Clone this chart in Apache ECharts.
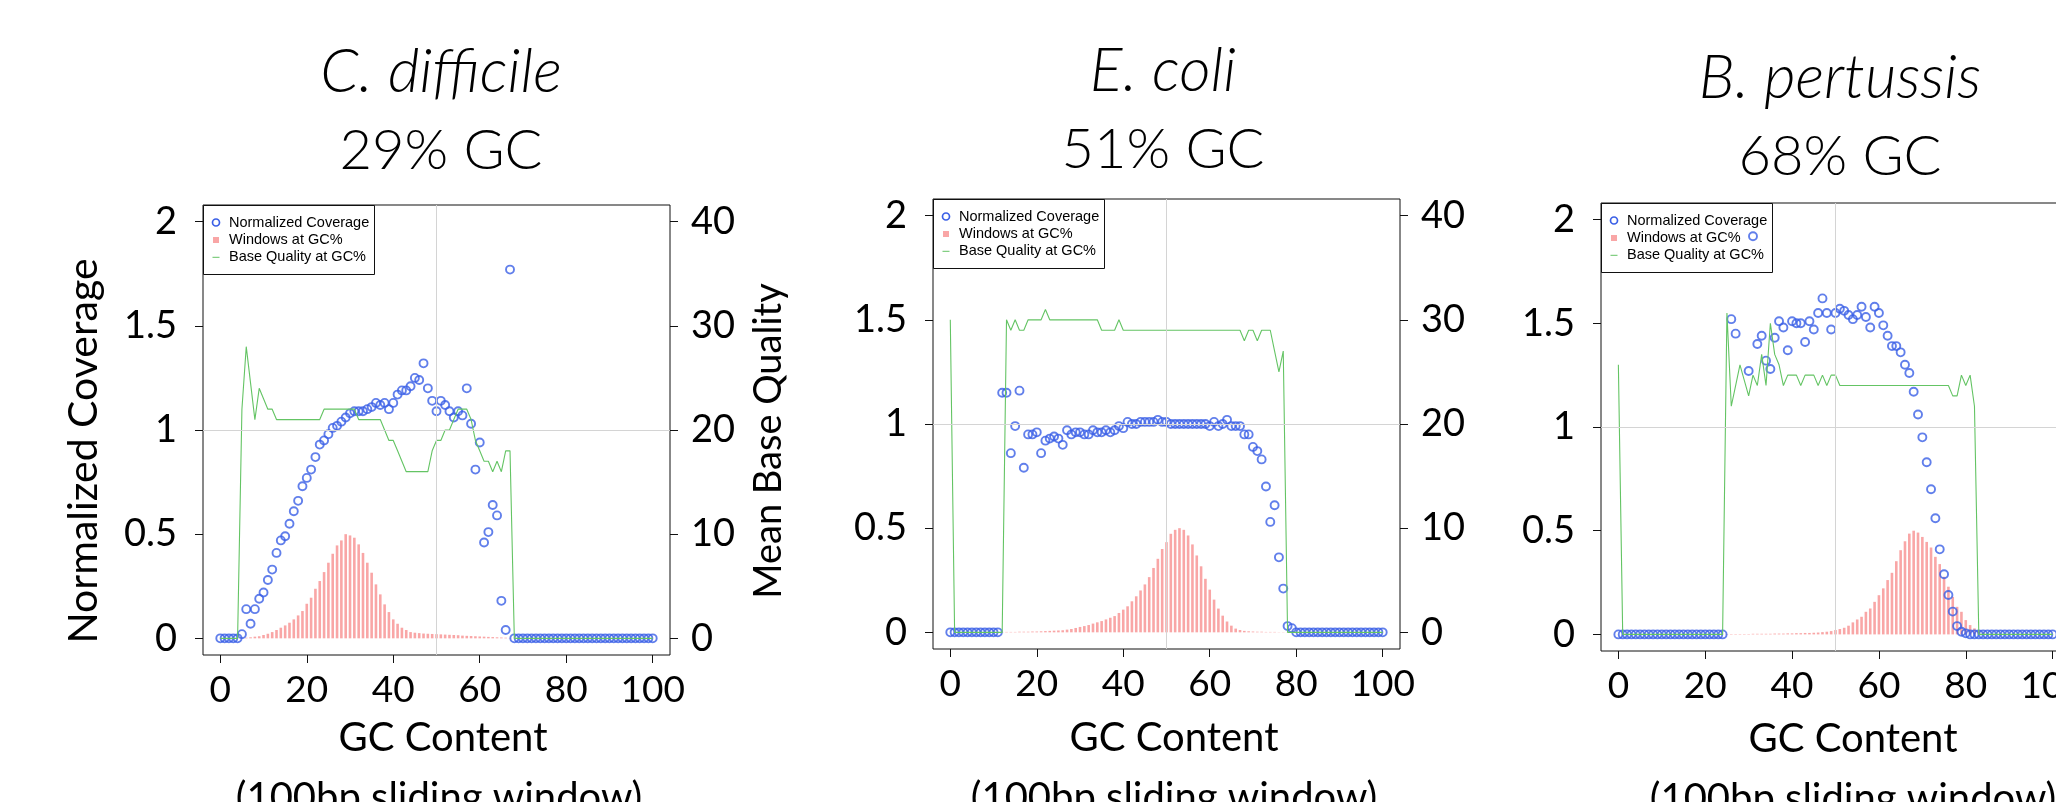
<!DOCTYPE html>
<html>
<head>
<meta charset="utf-8">
<title>GC bias</title>
<script src="https://cdn.jsdelivr.net/npm/echarts@6/dist/echarts.min.js"></script>
<style>
  html, body { margin: 0; padding: 0; background: #fff; }
  #chart { width: 2056px; height: 802px; }
</style>
</head>
<body>
<div id="chart"></div>
<script>
// x categories: GC content of a 100bp window
const gcContent = [
  0, 1, 2, 3, 4, 5, 6, 7, 8, 9,
  10, 11, 12, 13, 14, 15, 16, 17, 18, 19,
  20, 21, 22, 23, 24, 25, 26, 27, 28, 29,
  30, 31, 32, 33, 34, 35, 36, 37, 38, 39,
  40, 41, 42, 43, 44, 45, 46, 47, 48, 49,
  50, 51, 52, 53, 54, 55, 56, 57, 58, 59,
  60, 61, 62, 63, 64, 65, 66, 67, 68, 69,
  70, 71, 72, 73, 74, 75, 76, 77, 78, 79,
  80, 81, 82, 83, 84, 85, 86, 87, 88, 89,
  90, 91, 92, 93, 94, 95, 96, 97, 98, 99,
  100
];

const xTicks = [0, 20, 40, 60, 80, 100];
const coverageTicks = [0, 0.5, 1, 1.5, 2];
const qualityTicks = [0, 10, 20, 30, 40];

const speciesNames = ['C. difficile', 'E. coli', 'B. pertussis'];
const genomeGc = ['29% GC', '51% GC', '68% GC'];
const legendNames = ['Normalized Coverage', 'Windows at GC%', 'Base Quality at GC%'];

// C. difficile
const cdCoverage = [
  0, 0, 0, 0, 0, 0.02, 0.14, 0.07, 0.14, 0.19,
  0.22, 0.28, 0.33, 0.41, 0.47, 0.49, 0.55, 0.61, 0.66, 0.73,
  0.77, 0.81, 0.87, 0.93, 0.95, 0.98, 1.01, 1.02, 1.04, 1.06,
  1.08, 1.09, 1.09, 1.09, 1.10, 1.11, 1.13, 1.12, 1.13, 1.10,
  1.13, 1.17, 1.19, 1.19, 1.21, 1.25, 1.24, 1.32, 1.20, 1.14,
  1.09, 1.14, 1.12, 1.09, 1.06, 1.09, 1.07, 1.20, 1.03, 0.81,
  0.94, 0.46, 0.51, 0.64, 0.59, 0.18, 0.04, 1.77, 0, 0,
  0, 0, 0, 0, 0, 0, 0, 0, 0, 0,
  0, 0, 0, 0, 0, 0, 0, 0, 0, 0,
  0, 0, 0, 0, 0, 0, 0, 0, 0, 0,
  0
];
const cdWindows = [
  0, 0, 0, 0, 0, 0.002, 0.003, 0.005, 0.008, 0.010,
  0.016, 0.022, 0.030, 0.040, 0.051, 0.062, 0.075, 0.091, 0.110, 0.131,
  0.166, 0.195, 0.238, 0.275, 0.318, 0.363, 0.406, 0.446, 0.470, 0.500,
  0.494, 0.483, 0.451, 0.410, 0.363, 0.315, 0.259, 0.211, 0.163, 0.126,
  0.091, 0.070, 0.051, 0.040, 0.030, 0.027, 0.025, 0.023, 0.022, 0.021,
  0.020, 0.019, 0.018, 0.017, 0.016, 0.015, 0.013, 0.012, 0.011, 0.010,
  0.009, 0.008, 0.007, 0.006, 0.005, 0.004, 0.003, 0.002, 0, 0,
  0, 0, 0, 0, 0, 0, 0, 0, 0, 0,
  0, 0, 0, 0, 0, 0, 0, 0, 0, 0,
  0, 0, 0, 0, 0, 0, 0, 0, 0, 0,
  0
];
const cdQuality = [
  0, 0, 0, 0, 0, 22, 28, 24.5, 21, 24,
  23, 22, 22, 21, 21, 21, 21, 21, 21, 21,
  21, 21, 21, 21, 22, 22, 22, 22, 22, 22,
  22, 22, 21, 21, 21, 21, 21, 21, 20, 19,
  19, 18, 17, 16, 16, 16, 16, 16, 16, 18,
  19, 19, 20, 20, 21, 22, 22, 22, 21, 19,
  18, 17, 17, 16, 17, 16, 18, 18, 0, 0,
  0, 0, 0, 0, 0, 0, 0, 0, 0, 0,
  0, 0, 0, 0, 0, 0, 0, 0, 0, 0,
  0, 0, 0, 0, 0, 0, 0, 0, 0, 0,
  0
];

// E. coli
const ecCoverage = [
  0, 0, 0, 0, 0, 0, 0, 0, 0, 0,
  0, 0, 1.15, 1.15, 0.86, 0.99, 1.16, 0.79, 0.95, 0.95,
  0.96, 0.86, 0.92, 0.93, 0.94, 0.93, 0.90, 0.97, 0.95, 0.96,
  0.96, 0.95, 0.95, 0.97, 0.96, 0.96, 0.97, 0.96, 0.97, 0.99,
  0.98, 1.01, 1.00, 1.00, 1.01, 1.01, 1.01, 1.01, 1.02, 1.01,
  1.01, 1.00, 1.00, 1.00, 1.00, 1.00, 1.00, 1.00, 1.00, 1.00,
  0.99, 1.01, 0.99, 1.00, 1.02, 0.99, 0.99, 0.99, 0.95, 0.95,
  0.89, 0.87, 0.83, 0.70, 0.53, 0.61, 0.36, 0.21, 0.03, 0.02,
  0, 0, 0, 0, 0, 0, 0, 0, 0, 0,
  0, 0, 0, 0, 0, 0, 0, 0, 0, 0,
  0
];
const ecWindows = [
  0, 0, 0, 0, 0, 0, 0, 0, 0, 0,
  0, 0, 0.002, 0.002, 0.002, 0.002, 0.003, 0.003, 0.003, 0.004,
  0.004, 0.005, 0.006, 0.007, 0.008, 0.009, 0.010, 0.013, 0.016, 0.021,
  0.026, 0.030, 0.035, 0.042, 0.048, 0.054, 0.062, 0.070, 0.078, 0.093,
  0.109, 0.125, 0.149, 0.173, 0.201, 0.230, 0.265, 0.309, 0.353, 0.400,
  0.433, 0.473, 0.492, 0.500, 0.492, 0.465, 0.422, 0.369, 0.317, 0.257,
  0.205, 0.157, 0.114, 0.080, 0.052, 0.032, 0.018, 0.011, 0.007, 0.005,
  0.004, 0.003, 0.003, 0.002, 0.002, 0.002, 0.001, 0.001, 0.001, 0.001,
  0, 0, 0, 0, 0, 0, 0, 0, 0, 0,
  0, 0, 0, 0, 0, 0, 0, 0, 0, 0,
  0
];
const ecQuality = [
  30, 0, 0, 0, 0, 0, 0, 0, 0, 0,
  0, 0, 0, 30, 29, 30, 29, 29, 30, 30,
  30, 30, 31, 30, 30, 30, 30, 30, 30, 30,
  30, 30, 30, 30, 30, 29, 29, 29, 29, 30,
  29, 29, 29, 29, 29, 29, 29, 29, 29, 29,
  29, 29, 29, 29, 29, 29, 29, 29, 29, 29,
  29, 29, 29, 29, 29, 29, 29, 29, 28, 29,
  29, 28, 29, 29, 29, 27, 25, 27, 0, 0,
  0, 0, 0, 0, 0, 0, 0, 0, 0, 0,
  0, 0, 0, 0, 0, 0, 0, 0, 0, 0,
  0
];

// B. pertussis (null = point not visible in the picture)
const bpCoverage = [
  0, 0, 0, 0, 0, 0, 0, 0, 0, 0,
  0, 0, 0, 0, 0, 0, 0, 0, 0, 0,
  0, 0, 0, 0, 0, null, 1.52, 1.45, null, null,
  1.27, 1.92, 1.40, 1.44, 1.32, 1.28, 1.43, 1.51, 1.48, 1.37,
  1.51, 1.50, 1.50, 1.41, 1.51, 1.47, 1.55, 1.62, 1.55, 1.47,
  1.55, 1.57, 1.56, 1.54, 1.52, 1.54, 1.58, 1.53, 1.48, 1.58,
  1.55, 1.49, 1.44, 1.39, 1.39, 1.36, 1.30, 1.26, 1.17, 1.06,
  0.95, 0.83, 0.70, 0.56, 0.41, 0.29, 0.19, 0.11, 0.04, 0.013,
  0.005, 0, 0, 0, 0, 0, 0, 0, 0, 0,
  0, 0, 0, 0, 0, 0, 0, 0, 0, 0,
  0
];
const bpWindows = [
  0, 0, 0, 0, 0, 0, 0, 0, 0, 0,
  0, 0, 0, 0, 0, 0, 0, 0, 0, 0,
  0, 0, 0, 0, 0, 0.002, 0.002, 0.002, 0.002, 0.002,
  0.002, 0.003, 0.003, 0.003, 0.003, 0.003, 0.004, 0.004, 0.004, 0.005,
  0.005, 0.006, 0.006, 0.007, 0.007, 0.008, 0.009, 0.011, 0.013, 0.016,
  0.021, 0.026, 0.032, 0.042, 0.058, 0.072, 0.085, 0.109, 0.125, 0.157,
  0.189, 0.222, 0.262, 0.297, 0.353, 0.406, 0.449, 0.486, 0.500, 0.491,
  0.470, 0.446, 0.419, 0.374, 0.339, 0.278, 0.230, 0.181, 0.133, 0.109,
  0.069, 0.045, 0.029, 0.018, 0.010, 0, 0, 0, 0, 0,
  0, 0, 0, 0, 0, 0, 0, 0, 0, 0,
  0
];
const bpQuality = [
  26, 0, 0, 0, 0, 0, 0, 0, 0, 0,
  0, 0, 0, 0, 0, 0, 0, 0, 0, 0,
  0, 0, 0, 0, 0, 31, 22, 24, 26, 24.5,
  23, 25, 24, 27, 24, 30, 27, 26, 24, 25,
  25, 25, 24, 25, 25, 25, 24, 25, 24, 25,
  25, 24, 24, 24, 24, 24, 24, 24, 24, 24,
  24, 24, 24, 24, 24, 24, 24, 24, 24, 24,
  24, 24, 24, 24, 24, 24, 24, 23, 23, 25,
  24, 25, 22, 0, 0, 0, 0, 0, 0, 0,
  0, 0, 0, 0, 0, 0, 0, 0, 0, 0,
  0
];

const panelData = [
  { coverage: cdCoverage, windows: cdWindows, quality: cdQuality },
  { coverage: ecCoverage, windows: ecWindows, quality: ecQuality },
  { coverage: bpCoverage, windows: bpWindows, quality: bpQuality }
];

// page layout of the three panels (pixels)
const layouts = [
  { grid: { left: 203, top: 205, width: 467, height: 450 }, titleX: 441, titleY: [72, 151], nameX: [443, 439], nameY: [738, 798] },
  { grid: { left: 933, top: 199, width: 467, height: 450 }, titleX: 1163, titleY: [71, 150], nameX: [1174, 1174], nameY: [738, 798] },
  { grid: { left: 1601, top: 203, width: 469, height: 448 }, titleX: 1840, titleY: [78, 157], nameX: [1853, 1853], nameY: [739, 799] }
];

const BLUE = '#3a5fe6';
const PINK = '#f9a6a6';
const GREEN = '#64c464';
const GRID_GRAY = '#d4d4d4';
const FONT = 'Lato';

function pairs(values) {
  return gcContent
    .map((g, i) => [g, values[i]])
    .filter(p => p[1] !== null);
}

const grids = [], xAxes = [], yAxes = [], series = [], graphics = [];

layouts.forEach((lay, i) => {
  grids.push(Object.assign({
    show: true, borderColor: '#111', borderWidth: 1,
    containLabel: false, outerBoundsMode: 'none'
  }, lay.grid));

  // axes sit on the plot box edges, ticks point outward (R style)
  xAxes.push({
    type: 'value', gridIndex: i, min: -4, max: 104,
    axisLine: { show: false, onZero: false },
    axisTick: { show: true, customValues: xTicks, length: 8, lineStyle: { color: '#111' } },
    axisLabel: { customValues: xTicks, margin: 17, fontSize: 37, fontFamily: FONT, color: '#000' },
    splitLine: { show: false }
  });

  yAxes.push({
    type: 'value', gridIndex: i, position: 'left', min: -0.08, max: 2.08,
    axisLine: { show: false, onZero: false },
    axisTick: { show: true, customValues: coverageTicks, length: 8, lineStyle: { color: '#111' } },
    axisLabel: { customValues: coverageTicks, margin: 26, fontSize: 38, fontFamily: FONT, color: '#000' },
    splitLine: { show: false }
  });
  yAxes.push({
    type: 'value', gridIndex: i, position: 'right', min: -1.6, max: 41.6,
    axisLine: { show: false, onZero: false },
    axisTick: { show: true, customValues: qualityTicks, length: 8, lineStyle: { color: '#111' } },
    axisLabel: { customValues: qualityTicks, margin: 21, fontSize: 38, fontFamily: FONT, color: '#000' },
    splitLine: { show: false }
  });

  const d = panelData[i];
  series.push({
    name: legendNames[1], type: 'bar', xAxisIndex: i, yAxisIndex: 2 * i,
    data: pairs(d.windows), barWidth: 2.6, itemStyle: { color: PINK }, z: 1,
    markLine: {
      silent: true, symbol: ['none', 'none'], label: { show: false },
      lineStyle: { color: GRID_GRAY, width: 1, type: 'solid' },
      data: [{ xAxis: 50 }, { yAxis: 1 }]
    }
  });
  series.push({
    name: legendNames[0], type: 'scatter', xAxisIndex: i, yAxisIndex: 2 * i,
    data: pairs(d.coverage), symbol: 'circle', symbolSize: 8,
    itemStyle: { color: 'rgba(0,0,0,0)', borderColor: BLUE, borderWidth: 1.9 }, z: 3
  });
  series.push({
    name: legendNames[2], type: 'line', xAxisIndex: i, yAxisIndex: 2 * i + 1,
    data: pairs(d.quality), showSymbol: false,
    lineStyle: { color: GREEN, width: 1.1 }, z: 4
  });

  // titles
  graphics.push({ type: 'text', x: lay.titleX, y: lay.titleY[0], z: 100,
    style: { text: speciesNames[i], font: 'italic 300 61px ' + FONT, fill: '#000', textAlign: 'center', textVerticalAlign: 'middle' } });
  graphics.push({ type: 'text', x: lay.titleX, y: lay.titleY[1], z: 100,
    style: { text: genomeGc[i], font: '300 56px ' + FONT, fill: '#000', textAlign: 'center', textVerticalAlign: 'middle' } });
  // x axis name
  graphics.push({ type: 'text', x: lay.nameX[0], y: lay.nameY[0], z: 100,
    style: { text: 'GC Content', font: '40px ' + FONT, fill: '#000', textAlign: 'center', textVerticalAlign: 'middle' } });
  graphics.push({ type: 'text', x: lay.nameX[1], y: lay.nameY[1], z: 100,
    style: { text: '(100bp sliding window)', font: '40px ' + FONT, fill: '#000', textAlign: 'center', textVerticalAlign: 'middle' } });

  // legend box in the top-left corner of the plot
  const x0 = lay.grid.left, y0 = lay.grid.top;
  const rows = [17.5, 35, 52.3];
  graphics.push({ type: 'rect', z: 90, shape: { x: x0 + 0.5, y: y0 + 0.5, width: 171, height: 69 },
    style: { fill: 'none', stroke: '#111', lineWidth: 1 } });
  graphics.push({ type: 'circle', z: 90, shape: { cx: x0 + 13, cy: y0 + rows[0], r: 3.5 },
    style: { fill: 'none', stroke: BLUE, lineWidth: 1.7 } });
  graphics.push({ type: 'rect', z: 90, shape: { x: x0 + 10, y: y0 + rows[1] - 3, width: 6, height: 6 },
    style: { fill: PINK } });
  graphics.push({ type: 'line', z: 90, shape: { x1: x0 + 9.5, y1: y0 + rows[2], x2: x0 + 16.5, y2: y0 + rows[2] },
    style: { stroke: GREEN, lineWidth: 1 } });
  legendNames.forEach((n, k) => {
    graphics.push({ type: 'text', z: 90, x: x0 + 26, y: y0 + rows[k],
      style: { text: n, font: '14.5px "Liberation Sans"', fill: '#000', textAlign: 'left', textVerticalAlign: 'middle' } });
  });
});

// axis titles only on the first panel
graphics.push({ type: 'text', x: 84, y: 451, rotation: Math.PI / 2, z: 100,
  style: { text: 'Normalized Coverage', font: '41px ' + FONT, fill: '#000', textAlign: 'center', textVerticalAlign: 'middle' } });
graphics.push({ type: 'text', x: 769, y: 441, rotation: Math.PI / 2, z: 100,
  style: { text: 'Mean Base Quality', font: '38px ' + FONT, fill: '#000', textAlign: 'center', textVerticalAlign: 'middle' } });

const chart = echarts.init(document.getElementById('chart'));
chart.setOption({
  backgroundColor: '#fff',
  animation: false,
  grid: grids,
  xAxis: xAxes,
  yAxis: yAxes,
  series: series,
  graphic: graphics
});
</script>
</body>
</html>
